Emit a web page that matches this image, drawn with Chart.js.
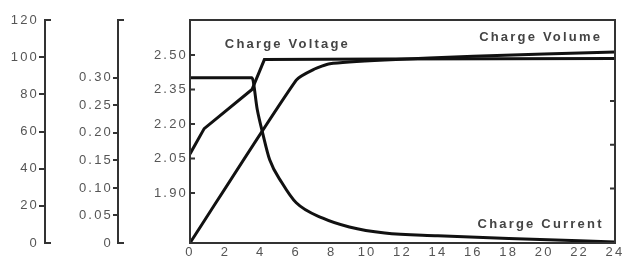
<!DOCTYPE html>
<html>
<head>
<meta charset="utf-8">
<script src="https://cdn.jsdelivr.net/npm/chart.js@4"></script>
<style>
  html, body { margin: 0; padding: 0; background: #fff; }
  canvas { display: block; }
</style>
</head>
<body>
<canvas id="chargeChart" width="627" height="262"></canvas>
<script>
// tick labels
const hourTicks = [0, 2, 4, 6, 8, 10, 12, 14, 16, 18, 20, 22, 24];
const voltageTicks = [1.90, 2.05, 2.20, 2.35, 2.50];
const currentTicks = [0, 0.05, 0.10, 0.15, 0.20, 0.25, 0.30];
const volumeTicks = [0, 20, 40, 60, 80, 100, 120];
const rightTicks = [2.30, 2.11, 1.92];

// Charge Voltage (V/cell)
const voltageHours = [0, 0.8, 3.5, 4.2, 11, 24];
const voltageValues = [2.07, 2.18, 2.35, 2.48, 2.482, 2.485];

// Charge Current (CA)
const currentHours = [0, 3.5, 3.8, 4.1, 4.5, 5.2, 6.0, 7.5, 9.0, 11, 14, 18, 24];
const currentValues = [0.30, 0.30, 0.242, 0.20, 0.151, 0.109, 0.073, 0.045, 0.029, 0.018, 0.013, 0.008, 0.002];

// Charge Volume (%)
const volumeHours = [0, 6, 7, 7.9, 11, 16, 24];
const volumeValues = [0, 87.7, 93.5, 96.5, 98.5, 100.5, 102.8];

const seriesLabels = [
  { text: 'Charge Voltage', hour: 5.5, volt: 2.548 },
  { text: 'Charge Volume', hour: 19.8, volt: 2.578 },
  { text: 'Charge Current', hour: 19.8, volt: 1.765 }
];

const axisColor = '#333';
const tickColor = '#555';
const tickFont = { family: "'Liberation Sans', Arial, sans-serif", size: 13 };

const toPoints = (xs, ys) => xs.map((x, i) => ({ x: x, y: ys[i] }));
const setTicks = list => scale => { scale.ticks = list.map(v => ({ value: v })); };

const framePlugin = {
  id: 'frame',
  beforeLayout(chart) { chart.ctx.letterSpacing = '2.2px'; },
  beforeDraw(chart) { chart.ctx.letterSpacing = '2.2px'; },
  afterDraw(chart) {
    const { ctx, chartArea: a, scales } = chart;
    ctx.save();
    ctx.strokeStyle = axisColor;
    ctx.lineWidth = 2;
    ctx.strokeRect(a.left, a.top, a.right - a.left, a.bottom - a.top);

    // little end caps on the two outer axes
    ctx.beginPath();
    [scales.yVol, scales.yCur].forEach(s => {
      ctx.moveTo(s.right, s.top); ctx.lineTo(s.right + 6, s.top);
      ctx.moveTo(s.right, s.bottom); ctx.lineTo(s.right + 6, s.bottom);
    });
    // inner ticks on the plot box
    voltageTicks.forEach(v => {
      const y = scales.yVolt.getPixelForValue(v);
      ctx.moveTo(a.left, y); ctx.lineTo(a.left + 5, y);
    });
    rightTicks.forEach(v => {
      const y = scales.yVolt.getPixelForValue(v);
      ctx.moveTo(a.right, y); ctx.lineTo(a.right - 5, y);
    });
    ctx.stroke();

    ctx.font = "bold 13px 'Liberation Sans', Arial, sans-serif";
    ctx.fillStyle = '#444';
    ctx.textAlign = 'center';
    ctx.textBaseline = 'middle';
    seriesLabels.forEach(l => {
      ctx.fillText(l.text, scales.x.getPixelForValue(l.hour), scales.yVolt.getPixelForValue(l.volt));
    });
    ctx.restore();
  }
};

const lineStyle = { borderColor: '#111', borderWidth: 3, pointRadius: 0, fill: false };

new Chart(document.getElementById('chargeChart'), {
  type: 'line',
  data: {
    datasets: [
      { label: 'Charge Voltage', data: toPoints(voltageHours, voltageValues), yAxisID: 'yVolt', tension: 0, ...lineStyle },
      { label: 'Charge Current', data: toPoints(currentHours, currentValues), yAxisID: 'yCur', cubicInterpolationMode: 'monotone', ...lineStyle },
      { label: 'Charge Volume', data: toPoints(volumeHours, volumeValues), yAxisID: 'yVol', tension: 0.2, ...lineStyle }
    ]
  },
  options: {
    responsive: false,
    animation: false,
    layout: { padding: { top: 20, right: 12, left: 0, bottom: 0 } },
    plugins: { legend: { display: false }, tooltip: { enabled: false } },
    scales: {
      x: {
        type: 'linear', position: 'bottom', min: 0, max: 24,
        afterBuildTicks: setTicks(hourTicks),
        afterFit: s => { s.height = 19; },
        grid: { display: false, drawTicks: false },
        border: { color: axisColor, width: 2 },
        ticks: { padding: 2, font: tickFont, color: tickColor, maxRotation: 0, autoSkip: false }
      },
      yVolt: {
        position: 'left', weight: 1, min: 1.683, max: 2.652,
        afterBuildTicks: setTicks(voltageTicks),
        afterFit: s => { s.width = 72; },
        grid: { display: false, drawTicks: false },
        border: { color: axisColor, width: 2 },
        ticks: { padding: 2, font: tickFont, color: tickColor, callback: v => v.toFixed(2) }
      },
      yCur: {
        position: 'left', weight: 2, min: 0, max: 0.405,
        afterBuildTicks: setTicks(currentTicks),
        afterFit: s => { s.width = 73; },
        grid: { drawOnChartArea: false, tickLength: 5, lineWidth: 2,
                color: c => c.tick && c.tick.value === 0 ? 'transparent' : axisColor },
        border: { color: axisColor, width: 2 },
        ticks: { padding: 0, font: tickFont, color: tickColor, callback: v => v === 0 ? '0' : v.toFixed(2) }
      },
      yVol: {
        position: 'left', weight: 3, min: 0, max: 120,
        afterBuildTicks: setTicks(volumeTicks),
        afterFit: s => { s.width = 45; },
        grid: { drawOnChartArea: false, tickLength: 6, lineWidth: 2,
                color: c => c.tick && (c.tick.value === 0 || c.tick.value === 120) ? 'transparent' : axisColor },
        border: { color: axisColor, width: 2 },
        ticks: { padding: 0, font: tickFont, color: tickColor }
      }
    }
  },
  plugins: [framePlugin]
});
</script>
</body>
</html>
